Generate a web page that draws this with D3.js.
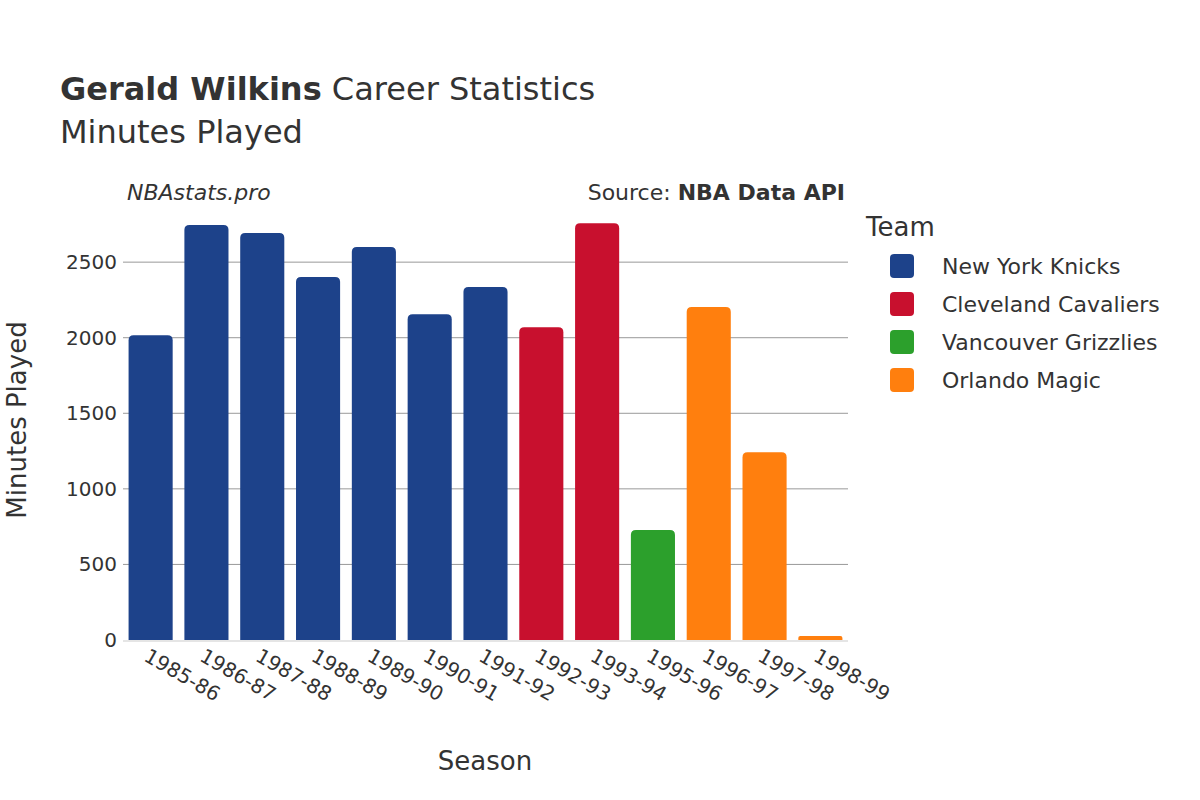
<!DOCTYPE html><html><head><meta charset="utf-8"><script src="https://cdn.jsdelivr.net/npm/d3@7"></script>
<style>body{margin:0;background:#fff}text{font-family:"DejaVu Sans",sans-serif;fill:#333}</style></head><body><svg id="c" width="1200" height="800"></svg>
<script>
const seasons=["1985-86","1986-87","1987-88","1988-89","1989-90","1990-91","1991-92","1992-93","1993-94","1995-96","1996-97","1997-98","1998-99"];
const minutes=[2017,2745,2692,2401,2600,2156,2335,2070,2758,728,2203,1243,26];
const teams=["NYK","NYK","NYK","NYK","NYK","NYK","NYK","CLE","CLE","VAN","ORL","ORL","ORL"];
const teamNames=["New York Knicks","Cleveland Cavaliers","Vancouver Grizzlies","Orlando Magic"];
const teamKeys=["NYK","CLE","VAN","ORL"];
const colors=["#1d428a","#c8102e","#2ca02c","#ff7f0e"];
const yTicks=[0,500,1000,1500,2000,2500];
const svg=d3.select("#c");
const L=123,R=848,T=210,B=640;
const x=d3.scaleBand().domain(seasons).range([L,R]).paddingInner(0.21).paddingOuter(0.1);
const y=d3.scaleLinear().domain([0,2845]).range([B,T]);
const col=d3.scaleOrdinal().domain(teamKeys).range(colors);
svg.append("g").selectAll("line").data(yTicks.slice(1)).join("line").attr("x1",L).attr("x2",R).attr("y1",d=>y(d)).attr("y2",d=>y(d)).attr("stroke","#999").attr("stroke-width",1);
svg.append("line").attr("x1",L).attr("x2",R).attr("y1",y(0)+1).attr("y2",y(0)+1).attr("stroke","#e5e5e5").attr("stroke-width",2);
svg.append("g").selectAll("path").data(seasons).join("path").attr("fill",(d,i)=>col(teams[i])).attr("d",(d,i)=>{
 const x0=x(d),w=x.bandwidth(),y0=y(minutes[i]),h=B-y0,r=Math.min(5,h/2);
 return `M${x0},${B}V${y0+r}Q${x0},${y0} ${x0+r},${y0}H${x0+w-r}Q${x0+w},${y0} ${x0+w},${y0+r}V${B}Z`;});
svg.append("g").selectAll("text").data(yTicks).join("text").attr("x",L-6).attr("y",d=>y(d)+7).attr("text-anchor","end").attr("font-size",20).text(d=>d);
svg.append("g").selectAll("text").data(seasons).join("text").attr("transform",d=>`translate(${x(d)+x.bandwidth()/2-8},${B+20}) rotate(30)`).attr("font-size",20).text(d=>d);
svg.append("text").attr("x",485).attr("y",770).attr("text-anchor","middle").attr("font-size",26).text("Season");
svg.append("text").attr("transform","translate(26,420) rotate(-90)").attr("text-anchor","middle").attr("font-size",26).text("Minutes Played");
const t=svg.append("text").attr("x",60).attr("y",100).attr("font-size",32);
t.append("tspan").attr("font-weight","bold").text("Gerald Wilkins");t.append("tspan").text(" Career Statistics");
svg.append("text").attr("x",60).attr("y",143).attr("font-size",32).text("Minutes Played");
svg.append("text").attr("x",127).attr("y",200).attr("font-size",22).attr("font-style","italic").text("NBAstats.pro");
const s=svg.append("text").attr("x",845).attr("y",200).attr("font-size",22).attr("text-anchor","end");
s.append("tspan").text("Source: ");s.append("tspan").attr("font-weight","bold").text("NBA Data API");
svg.append("text").attr("x",866).attr("y",236).attr("font-size",26).text("Team");
const lg=svg.append("g").selectAll("g").data(teamNames).join("g").attr("transform",(d,i)=>`translate(890,${266+i*38})`);
lg.append("rect").attr("x",0).attr("y",-12).attr("width",24).attr("height",24).attr("rx",4).attr("fill",(d,i)=>colors[i]);
lg.append("text").attr("x",52).attr("y",8).attr("font-size",22).text(d=>d);
</script></body></html>
